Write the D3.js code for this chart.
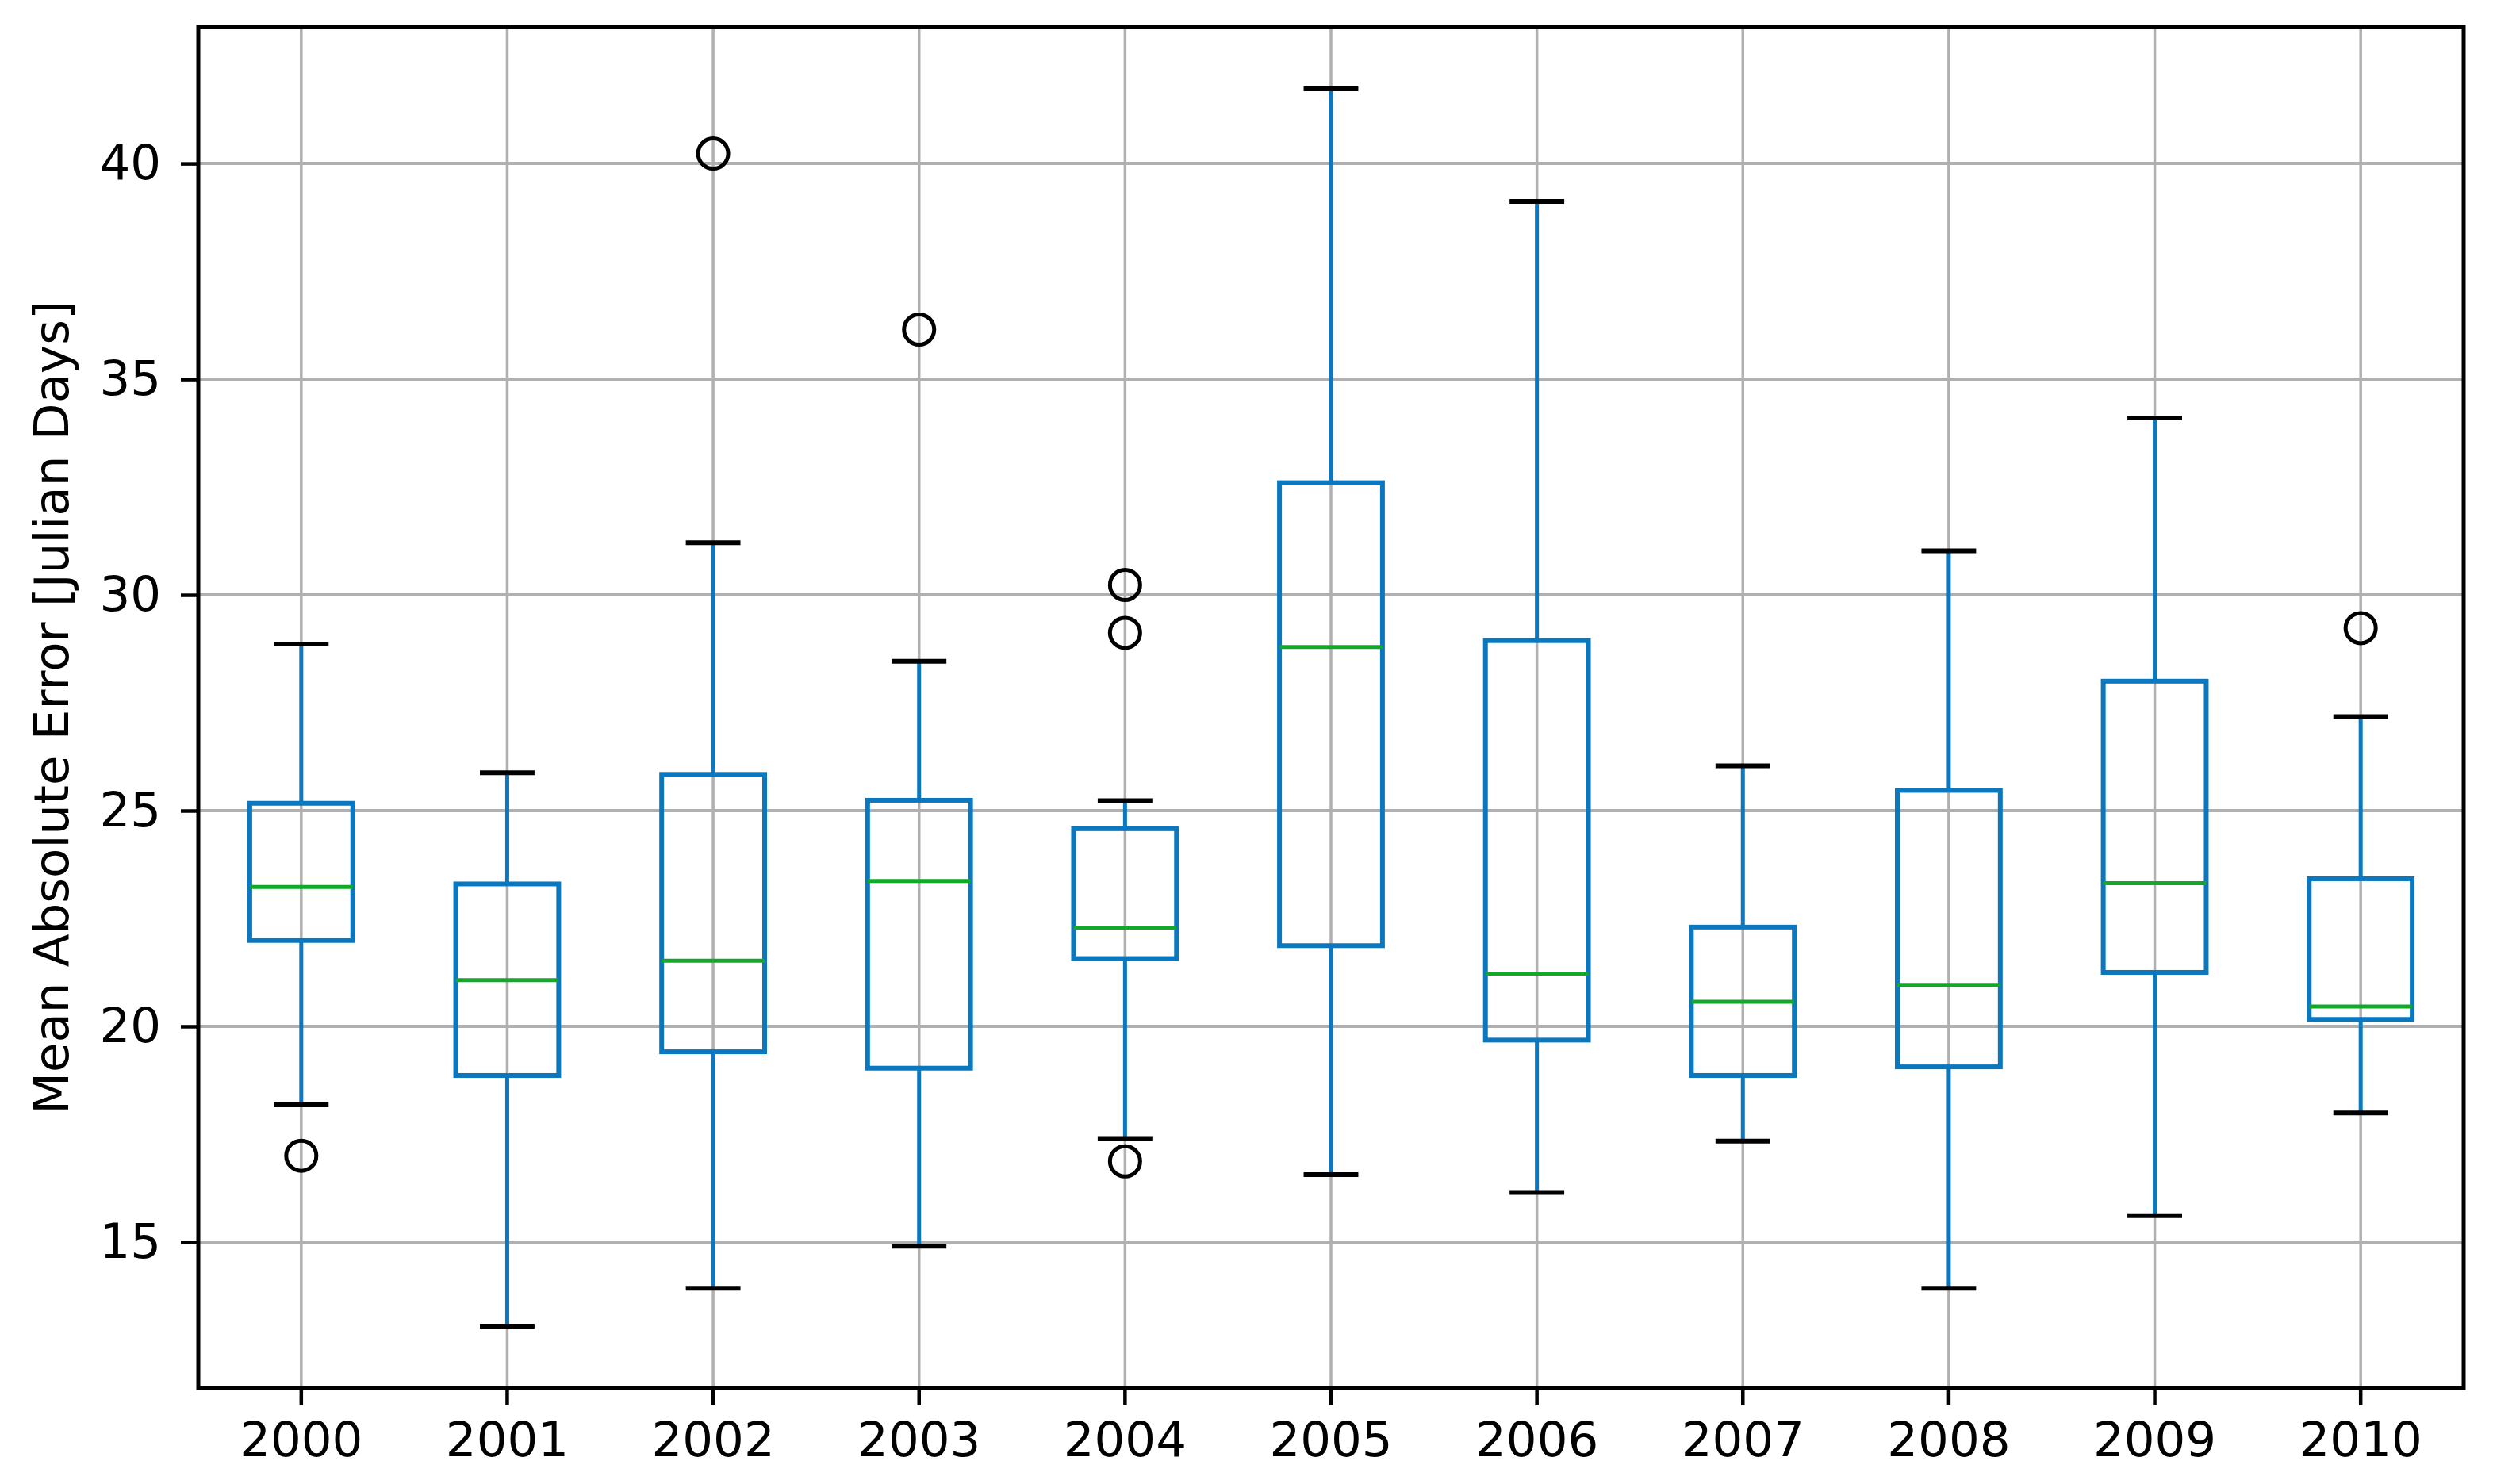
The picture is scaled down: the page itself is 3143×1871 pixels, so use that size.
<!DOCTYPE html>
<html>
<head>
<meta charset="utf-8">
<script src="https://cdn.jsdelivr.net/npm/d3@7"></script>
<style>
  html, body { margin: 0; padding: 0; background: #fff; }
  svg { display: block; }
</style>
</head>
<body>
<div id="chart"></div>
<script>
// chart values
const years = ["2000", "2001", "2002", "2003", "2004", "2005", "2006", "2007", "2008", "2009", "2010"];
const whiskerLow  = [18.18, 13.05, 13.93, 14.90, 17.40, 16.56, 16.15, 17.34, 13.93, 15.61, 17.99];
const q1          = [21.99, 18.86, 19.41, 19.03, 21.57, 21.87, 19.68, 18.86, 19.06, 21.25, 20.16];
const medians     = [23.23, 21.07, 21.52, 23.37, 22.29, 28.79, 21.22, 20.57, 20.96, 23.32, 20.46];
const q3          = [25.17, 23.30, 25.84, 25.24, 24.58, 32.60, 28.94, 22.30, 25.47, 28.00, 23.42];
const whiskerHigh = [28.86, 25.88, 31.21, 28.46, 25.23, 41.73, 39.12, 26.04, 31.02, 34.10, 27.18];
const outlierYears  = ["2000", "2002", "2003", "2004", "2004", "2004", "2010"];
const outlierValues = [17.00, 40.23, 36.15, 30.23, 29.12, 16.87, 29.23];
const yTicks = [15, 20, 25, 30, 35, 40];
const yLabel = "Mean Absolute Error [Julian Days]";

// Declare the chart dimensions and margins.
const width = 3143;
const height = 1871;
const marginTop = 34;
const marginRight = 37;
const marginBottom = 121;
const marginLeft = 250;

const boxColor = "#0a77bf";
const medianColor = "#12a82a";
const gridColor = "#b0b0b0";
const fontSize = 61;

const boxes = years.map((year, i) => ({
  year, lo: whiskerLow[i], q1: q1[i], med: medians[i], q3: q3[i], hi: whiskerHigh[i]
}));
const outliers = outlierYears.map((year, i) => ({ year, value: outlierValues[i] }));

// y domain like matplotlib autoscale: data range plus 5% margins
const allVals = whiskerLow.concat(whiskerHigh, outlierValues);
const ymin = d3.min(allVals), ymax = d3.max(allVals);
const pad = (ymax - ymin) * 0.05;

const x = d3.scaleBand()
  .domain(years)
  .range([marginLeft, width - marginRight])
  .padding(0);

const y = d3.scaleLinear()
  .domain([ymin - pad, ymax + pad])
  .range([height - marginBottom, marginTop]);

const bw = x.bandwidth();
const cx = (d) => x(d) + bw / 2;
const boxW = bw * 0.5;
const capW = bw * 0.25 + 4;

const svg = d3.select("#chart").append("svg")
  .attr("width", width)
  .attr("height", height)
  .attr("viewBox", [0, 0, width, height])
  .style("font-family", "'DejaVu Sans', sans-serif");

svg.append("rect").attr("width", width).attr("height", height).attr("fill", "#fff");

// grid lines
svg.append("g")
  .selectAll("line")
  .data(yTicks)
  .join("line")
  .attr("x1", marginLeft).attr("x2", width - marginRight)
  .attr("y1", (d) => y(d)).attr("y2", (d) => y(d))
  .attr("stroke", gridColor).attr("stroke-width", 4);

svg.append("g")
  .selectAll("line")
  .data(years)
  .join("line")
  .attr("x1", (d) => cx(d)).attr("x2", (d) => cx(d))
  .attr("y1", marginTop).attr("y2", height - marginBottom)
  .attr("stroke", gridColor).attr("stroke-width", 3.5);

const g = svg.append("g");

// whiskers
g.selectAll(".whisk-lo")
  .data(boxes)
  .join("line")
  .attr("x1", (d) => cx(d.year)).attr("x2", (d) => cx(d.year))
  .attr("y1", (d) => y(d.q1)).attr("y2", (d) => y(d.lo))
  .attr("stroke", boxColor).attr("stroke-width", 5);

g.selectAll(".whisk-hi")
  .data(boxes)
  .join("line")
  .attr("x1", (d) => cx(d.year)).attr("x2", (d) => cx(d.year))
  .attr("y1", (d) => y(d.q3)).attr("y2", (d) => y(d.hi))
  .attr("stroke", boxColor).attr("stroke-width", 5);

// caps
for (const key of ["lo", "hi"]) {
  g.append("g")
    .selectAll("line")
    .data(boxes)
    .join("line")
    .attr("x1", (d) => cx(d.year) - capW / 2).attr("x2", (d) => cx(d.year) + capW / 2)
    .attr("y1", (d) => y(d[key])).attr("y2", (d) => y(d[key]))
    .attr("stroke", "#000").attr("stroke-width", 6);
}

// boxes
g.append("g")
  .selectAll("rect")
  .data(boxes)
  .join("rect")
  .attr("x", (d) => cx(d.year) - boxW / 2)
  .attr("width", boxW)
  .attr("y", (d) => y(d.q3))
  .attr("height", (d) => y(d.q1) - y(d.q3))
  .attr("fill", "none")
  .attr("stroke", boxColor).attr("stroke-width", 6);

// medians
g.append("g")
  .selectAll("line")
  .data(boxes)
  .join("line")
  .attr("x1", (d) => cx(d.year) - boxW / 2).attr("x2", (d) => cx(d.year) + boxW / 2)
  .attr("y1", (d) => y(d.med)).attr("y2", (d) => y(d.med))
  .attr("stroke", medianColor).attr("stroke-width", 5);

// outliers
g.append("g")
  .selectAll("circle")
  .data(outliers)
  .join("circle")
  .attr("cx", (d) => cx(d.year))
  .attr("cy", (d) => y(d.value))
  .attr("r", 19)
  .attr("fill", "none")
  .attr("stroke", "#000").attr("stroke-width", 5);

// axes
const xAxis = svg.append("g")
  .attr("transform", `translate(0,${height - marginBottom})`)
  .call(d3.axisBottom(x).tickSize(22).tickPadding(21));

const yAxis = svg.append("g")
  .attr("transform", `translate(${marginLeft},0)`)
  .call(d3.axisLeft(y).tickValues(yTicks).tickFormat(d3.format("d")).tickSize(22).tickPadding(25));

for (const ax of [xAxis, yAxis]) {
  ax.select(".domain").remove();
  ax.selectAll(".tick line").attr("stroke", "#000").attr("stroke-width", 4.5);
  ax.selectAll(".tick text")
    .attr("fill", "#000")
    .style("font-size", fontSize + "px")
    .style("font-family", "'DejaVu Sans', sans-serif");
}

// frame
svg.append("rect")
  .attr("x", marginLeft).attr("y", marginTop)
  .attr("width", width - marginRight - marginLeft)
  .attr("height", height - marginBottom - marginTop)
  .attr("fill", "none")
  .attr("stroke", "#000").attr("stroke-width", 5);

// y label
svg.append("text")
  .attr("transform", `translate(86,${(marginTop + height - marginBottom) / 2}) rotate(-90)`)
  .attr("text-anchor", "middle")
  .style("font-size", fontSize + "px")
  .attr("fill", "#000")
  .text(yLabel);
</script>
</body>
</html>
